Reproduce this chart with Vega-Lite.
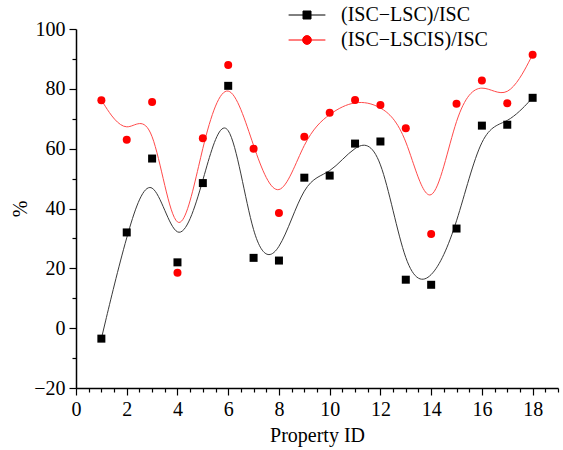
{
  "$schema": "https://vega.github.io/schema/vega-lite/v6.json",
  "width": 482,
  "height": 359,
  "autosize": "none",
  "padding": {"left": 76, "top": 29, "right": 5, "bottom": 62},
  "background": "white",
  "config": {
    "view": {"stroke": null},
    "font": "Liberation Serif",
    "axis": {
      "grid": false,
      "domainColor": "black",
      "domainWidth": 1.5,
      "tickColor": "black",
      "tickWidth": 1.2,
      "labelColor": "black",
      "titleColor": "black",
      "labelFont": "Liberation Serif",
      "titleFont": "Liberation Serif",
      "titleFontWeight": "normal",
      "labelFontSize": 20,
      "titleFontSize": 20,
      "labelOverlap": false,
      "labelFlush": false
    },
    "legend": {
      "labelFont": "Liberation Serif"
    }
  },
  "data": {
    "values": [
      {"id": 1, "series": "(ISC−LSC)/ISC", "value": -3.5},
      {"id": 2, "series": "(ISC−LSC)/ISC", "value": 32},
      {"id": 3, "series": "(ISC−LSC)/ISC", "value": 56.7},
      {"id": 4, "series": "(ISC−LSC)/ISC", "value": 22},
      {"id": 5, "series": "(ISC−LSC)/ISC", "value": 48.5},
      {"id": 6, "series": "(ISC−LSC)/ISC", "value": 81},
      {"id": 7, "series": "(ISC−LSC)/ISC", "value": 23.5},
      {"id": 8, "series": "(ISC−LSC)/ISC", "value": 22.6},
      {"id": 9, "series": "(ISC−LSC)/ISC", "value": 50.3},
      {"id": 10, "series": "(ISC−LSC)/ISC", "value": 51},
      {"id": 11, "series": "(ISC−LSC)/ISC", "value": 61.7},
      {"id": 12, "series": "(ISC−LSC)/ISC", "value": 62.4},
      {"id": 13, "series": "(ISC−LSC)/ISC", "value": 16.2},
      {"id": 14, "series": "(ISC−LSC)/ISC", "value": 14.5},
      {"id": 15, "series": "(ISC−LSC)/ISC", "value": 33.3},
      {"id": 16, "series": "(ISC−LSC)/ISC", "value": 67.7},
      {"id": 17, "series": "(ISC−LSC)/ISC", "value": 68},
      {"id": 18, "series": "(ISC−LSC)/ISC", "value": 77},
      {"id": 1, "series": "(ISC−LSCIS)/ISC", "value": 76.2},
      {"id": 2, "series": "(ISC−LSCIS)/ISC", "value": 63},
      {"id": 3, "series": "(ISC−LSCIS)/ISC", "value": 75.6},
      {"id": 4, "series": "(ISC−LSCIS)/ISC", "value": 18.5},
      {"id": 5, "series": "(ISC−LSCIS)/ISC", "value": 63.5},
      {"id": 6, "series": "(ISC−LSCIS)/ISC", "value": 88},
      {"id": 7, "series": "(ISC−LSCIS)/ISC", "value": 60},
      {"id": 8, "series": "(ISC−LSCIS)/ISC", "value": 38.5},
      {"id": 9, "series": "(ISC−LSCIS)/ISC", "value": 64},
      {"id": 10, "series": "(ISC−LSCIS)/ISC", "value": 72},
      {"id": 11, "series": "(ISC−LSCIS)/ISC", "value": 76.3},
      {"id": 12, "series": "(ISC−LSCIS)/ISC", "value": 74.6},
      {"id": 13, "series": "(ISC−LSCIS)/ISC", "value": 66.8},
      {"id": 14, "series": "(ISC−LSCIS)/ISC", "value": 31.5},
      {"id": 15, "series": "(ISC−LSCIS)/ISC", "value": 75},
      {"id": 16, "series": "(ISC−LSCIS)/ISC", "value": 82.8},
      {"id": 17, "series": "(ISC−LSCIS)/ISC", "value": 75.2},
      {"id": 18, "series": "(ISC−LSCIS)/ISC", "value": 91.4}
    ]
  },
  "encoding": {
    "x": {
      "field": "id",
      "type": "quantitative",
      "scale": {"domain": [0, 19], "nice": false, "zero": false},
      "axis": {
        "title": "Property ID",
        "values": [0, 0.5, 1, 1.5, 2, 2.5, 3, 3.5, 4, 4.5, 5, 5.5, 6, 6.5, 7, 7.5, 8, 8.5, 9, 9.5, 10, 10.5, 11, 11.5, 12, 12.5, 13, 13.5, 14, 14.5, 15, 15.5, 16, 16.5, 17, 17.5, 18, 18.5, 19],
        "labelExpr": "datum.value % 2 === 0 ? format(datum.value, 'd') : ''",
        "tickSize": {"condition": {"test": "datum.value % 2 === 0", "value": 7}, "value": 4},
        "labelPadding": 4,
        "titlePadding": 6
      }
    },
    "y": {
      "field": "value",
      "type": "quantitative",
      "scale": {"domain": [-20, 100], "nice": false, "zero": false},
      "axis": {
        "title": "%",
        "values": [-20, -10, 0, 10, 20, 30, 40, 50, 60, 70, 80, 90, 100],
        "labelExpr": "datum.value % 20 === 0 ? replace(format(datum.value, 'd'), '-', '−') : ''",
        "tickSize": {"condition": {"test": "datum.value % 20 === 0", "value": 7}, "value": 4},
        "labelPadding": 4,
        "titlePadding": 3
      }
    }
  },
  "layer": [
    {
      "mark": {"type": "line", "interpolate": "basis", "strokeWidth": 1, "color": "#3a3a3a"},
      "transform": [{"filter": "datum.series === '(ISC−LSC)/ISC'"}],
      "encoding": {}
    },
    {
      "mark": {"type": "line", "interpolate": "basis", "strokeWidth": 1, "color": "#ff4a4a"},
      "transform": [{"filter": "datum.series === '(ISC−LSCIS)/ISC'"}],
      "encoding": {}
    },
    {
      "mark": {"type": "point", "shape": "square", "filled": true, "size": 64, "opacity": 1},
      "transform": [{"filter": "datum.series === '(ISC−LSC)/ISC'"}],
      "encoding": {
        "color": {
          "field": "series",
          "type": "nominal",
          "scale": {"domain": ["(ISC−LSC)/ISC", "(ISC−LSCIS)/ISC"], "range": ["#000000", "#ff0000"]},
          "legend": {
            "title": null,
            "orient": "none",
            "legendX": 221,
            "legendY": -24,
            "padding": 0,
            "symbolSize": 64,
            "symbolStrokeWidth": 1,
            "symbolType": {"expr": "datum.value === '(ISC−LSC)/ISC' ? 'M-4.6,0H-1M1,0H4.6M-1,-1H1V1H-1Z' : 'M-4.6,0H-1.1M1.1,0H4.6M-1.1,0A1.1,1.1,0,1,0,1.1,0A1.1,1.1,0,1,0,-1.1,0Z'"},
            "symbolStrokeColor": {"expr": "datum.value === '(ISC−LSC)/ISC' ? '#000000' : '#ff0000'"},
            "labelOffset": 24,
            "labelFontSize": 20,
            "labelColor": "black",
            "rowPadding": 5,
            "labelLimit": 300
          }
        }
      }
    },
    {
      "mark": {"type": "point", "shape": "circle", "filled": true, "size": 64, "opacity": 1},
      "transform": [{"filter": "datum.series === '(ISC−LSCIS)/ISC'"}],
      "encoding": {
        "color": {
          "field": "series",
          "type": "nominal",
          "scale": {"domain": ["(ISC−LSC)/ISC", "(ISC−LSCIS)/ISC"], "range": ["#000000", "#ff0000"]},
          "legend": null
        }
      }
    }
  ]
}
